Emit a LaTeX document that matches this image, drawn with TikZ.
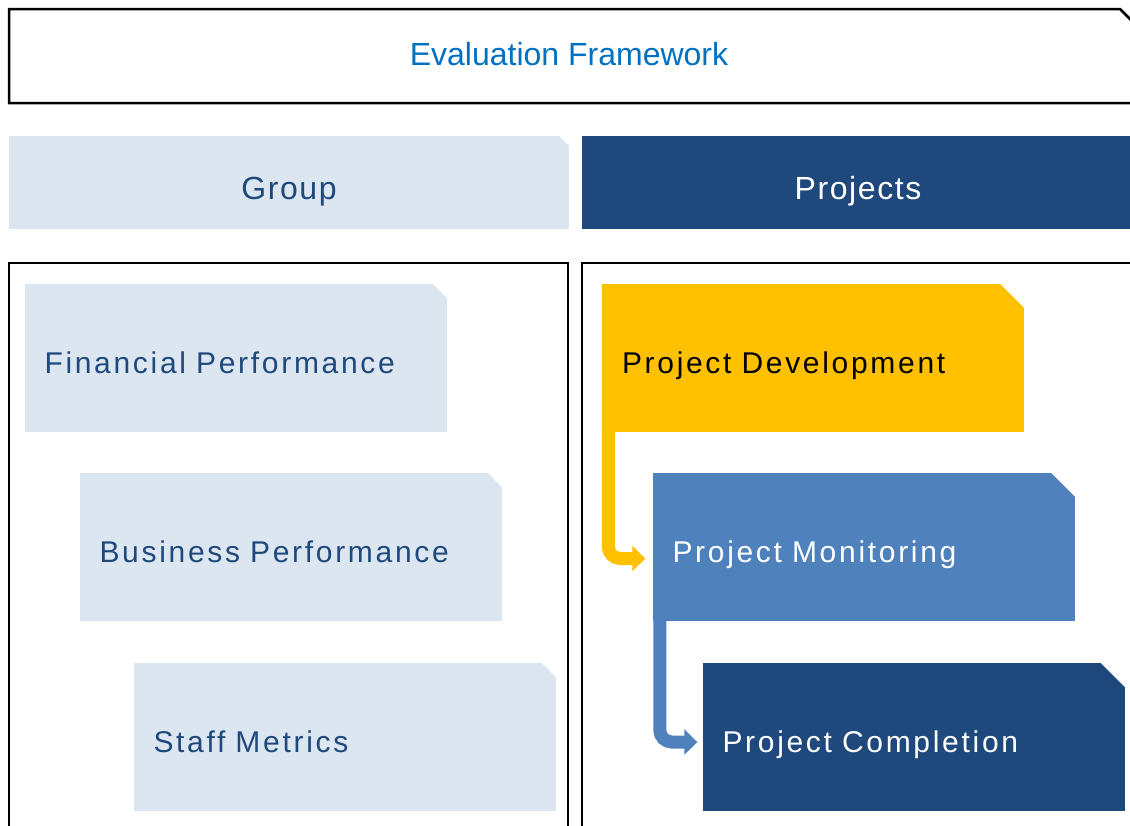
\documentclass[tikz,border=0pt]{standalone}
\usepackage{fontspec}
\setmainfont{Liberation Sans}
\newfontfamily\hdfont[LetterSpace=5]{Liberation Sans}
\newfontfamily\boxfont[LetterSpace=9, WordSpace=1.5]{Liberation Sans}
\usepackage{tikz}
\usetikzlibrary{arrows.meta,positioning}

\definecolor{TitleBlue}{HTML}{0070C0}
\definecolor{LightBlue}{HTML}{DCE6F1}
\definecolor{DarkBlue}{HTML}{1F497D}
\definecolor{MidBlue}{HTML}{4F81BD}
\definecolor{Amber}{HTML}{FFC000}

\begin{document}
\begin{tikzpicture}[x=1pt, y=-1pt]
		\tikzstyle{Frame}	= [draw=black, line width=2.5pt]
		\tikzstyle{Header}	= [rectangle, inner sep=0pt, minimum width=560pt, minimum height=93pt, text height=33pt, text depth=0pt, font=\hdfont\fontsize{32}{36}\selectfont]
		\tikzstyle{Step}	= [rectangle, inner xsep=20pt, inner ysep=0pt, text width=382pt, align=left, minimum height=148pt, text height=31pt, text depth=0pt, font=\boxfont\fontsize{30}{34}\selectfont]
		\tikzstyle{Flow}	= [line width=13pt, rounded corners=12pt, -{Triangle[length=13pt,width=25pt]}]

		\useasboundingbox (0,0) rectangle (1130,825);
		\clip (0,0) rectangle (1130,825);

		% top frame
		\draw [Frame] (9,103) -- (9,9) -- (1120,9) -- (1135,24) -- (1135,103) -- cycle;
		\node (title) at (569,65) [anchor=base, text=TitleBlue, font=\fontsize{32}{36}\selectfont] {Evaluation Framework};

		% headers
		\node (grp) at (289,182.5) [Header, fill=LightBlue, text=DarkBlue] {Group};
		\node (prj) at (858,182.5) [Header, minimum width=552pt, fill=DarkBlue, text=white] {Projects};

		% panels
		\draw [Frame] (9,830) -- (9,263) -- (568,263) -- (568,830);
		\draw [Frame] (582,830) -- (582,263) -- (1140,263);

		% group side
		\node (fin) at (235.5,358) [Step, fill=LightBlue, text=DarkBlue] {Financial Performance};
		\node (bus) at (290.5,547) [Step, fill=LightBlue, text=DarkBlue] {Business Performance};
		\node (stf) at (344.5,737) [Step, fill=LightBlue, text=DarkBlue] {Staff Metrics};

		% project side
		\node (dev) at (813,358) [Step, fill=Amber, text=black] {Project Development};
		\node (mon) at (863.5,546.5) [Step, fill=MidBlue, text=white] {Project Monitoring};
		\node (cmp) at (913.5,737) [Step, fill=DarkBlue, text=white] {Project Completion};

		% cut corners
		\foreach \n/\c in {grp/10, fin/14, bus/14, stf/14, dev/24, mon/24, cmp/24}
			\fill [white] ([xshift=-\c pt-2pt, yshift=2pt]\n.north east) -- ([xshift=2pt, yshift=2pt]\n.north east) -- ([xshift=2pt, yshift=-\c pt-2pt]\n.north east) -- cycle;

		\draw [Flow, Amber] ([xshift=6.5pt]dev.south west) |- ([xshift=-7pt, yshift=-12pt]mon.west);
		\draw [Flow, MidBlue] ([xshift=7.5pt]mon.south west) |- ([xshift=-5pt, yshift=-5pt]cmp.west);
	\end{tikzpicture}
\end{document}
